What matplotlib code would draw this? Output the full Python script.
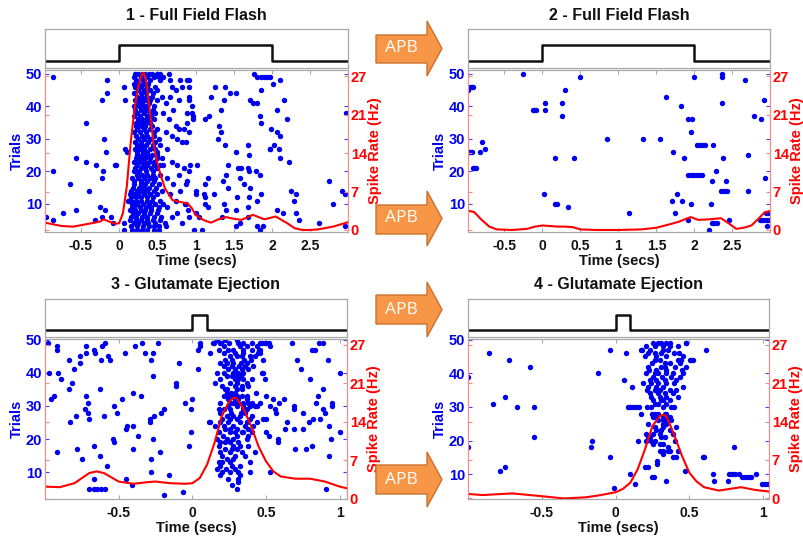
import numpy as np
import matplotlib.pyplot as plt
from matplotlib.patches import Polygon

plt.rcParams['font.family'] = ['Liberation Sans', 'DejaVu Sans']
plt.rcParams['font.weight'] = 'bold'

W, H = 804, 536

# ---------------- data ----------------
titles = ["1 - Full Field Flash", "2 - Full Field Flash",
          "3 - Glutamate Ejection", "4 - Glutamate Ejection"]

# stimulus traces (time, level)
stim_flash_t = [-1.0, 0.0, 0.0, 2.0, 2.0, 3.0]
stim_flash_v = [0, 0, 1, 1, 0, 0]
stim_glu_t = [-1.0, 0.0, 0.0, 0.1, 0.1, 1.1]
stim_glu_v = [0, 0, 1, 1, 0, 0]

# spike rate curves (Hz)
rate1_t = [-0.97, -0.75, -0.6, -0.4, -0.25, -0.2, -0.15, -0.05, 0.0, 0.05, 0.1, 0.15,
           0.2, 0.25, 0.3, 0.32, 0.35, 0.4, 0.45, 0.5, 0.55, 0.6, 0.7, 0.8, 0.9, 0.95,
           1.0, 1.1, 1.2, 1.3, 1.4, 1.5, 1.6, 1.75, 1.9, 2.05, 2.2, 2.3, 2.4, 2.5,
           2.6, 2.8, 2.95, 3.0]
rate1_v = [1.3, 0.7, 0.6, 1.1, 1.5, 1.9, 1.6, 1.1, 1.2, 3.0, 7.7, 15.4,
           21.4, 25.5, 27.8, 28.0, 27.0, 21.4, 15.4, 11.9, 9.5, 7.4, 5.3, 5.0, 4.7, 3.9,
           2.7, 1.8, 1.3, 1.9, 2.3, 2.0, 1.8, 2.7, 1.9, 2.4, 1.2, 0.3, 0.0, 0.0,
           0.1, 0.6, 1.2, 1.4]

rate2_t = [-0.97, -0.9, -0.8, -0.7, -0.6, -0.4, -0.2, -0.1, 0.0, 0.2, 0.3, 0.4, 0.5,
           0.7, 1.0, 1.3, 1.5, 1.7, 1.8, 1.95, 2.05, 2.2, 2.35, 2.45, 2.55, 2.65,
           2.75, 2.85, 2.92, 3.0]
rate2_v = [3.4, 3.2, 1.8, 0.6, 0.1, 0.0, 0.2, 0.6, 0.8, 0.6, 0.6, 0.5, 0.1,
           0.0, 0.0, 0.1, 0.4, 1.1, 1.5, 2.3, 1.8, 1.9, 2.1, 1.2, 0.2, 0.4,
           0.8, 2.1, 3.1, 3.4]

rate3_t = [-1.0, -0.9, -0.8, -0.7, -0.65, -0.6, -0.5, -0.4, -0.3, -0.25, -0.15, -0.05,
           0.0, 0.05, 0.1, 0.15, 0.2, 0.25, 0.28, 0.3, 0.35, 0.4, 0.45, 0.5, 0.55,
           0.6, 0.7, 0.8, 0.9, 1.0, 1.05]
rate3_v = [2.2, 2.1, 2.8, 4.6, 4.9, 4.6, 3.1, 2.7, 3.0, 3.1, 2.8, 2.7,
           2.8, 3.7, 6.1, 9.9, 14.7, 17.3, 18.0, 17.9, 15.9, 12.9, 9.3, 6.7, 4.9,
           4.0, 3.6, 3.6, 3.1, 2.2, 1.9]

rate4_t = [-1.0, -0.9, -0.7, -0.5, -0.35, -0.2, -0.1, 0.0, 0.05, 0.1, 0.15, 0.2,
           0.25, 0.3, 0.33, 0.35, 0.4, 0.45, 0.5, 0.55, 0.6, 0.7, 0.8, 0.85, 0.95, 1.05]
rate4_v = [0.8, 0.6, 0.9, 0.4, 0.0, 0.2, 0.6, 1.1, 1.7, 2.8, 5.2, 8.8,
           12.9, 14.7, 14.9, 14.4, 11.1, 7.6, 4.6, 3.0, 2.0, 1.4, 1.8, 2.0, 1.5, 1.2]

# raster spikes: (time, trial)
p1_spikes = [
    (-0.86, 49), (-0.16, 48), (-0.16, 44), (-0.23, 42), (-0.43, 35), (-0.20, 30),
    (-0.17, 26), (-0.56, 24), (-0.43, 23), (-0.30, 22), (-0.04, 22), (-0.86, 20),
    (-0.21, 20), (-0.22, 18), (-0.64, 16), (-0.40, 14), (-0.25, 9), (-0.19, 8),
    (-0.57, 8), (-0.74, 7), (-0.96, 6), (-0.87, 5), (-0.32, 5), (-0.22, 6),
    (-0.10, 6), (-0.08, 4), (-0.05, 22),
    (0.07, 46), (0.08, 42), (0.08, 27), (0.10, 26), (0.14, 13), (0.12, 11),
    (0.17, 9), (0.07, 4),
    (0.58, 49), (0.65, 50), (0.66, 48), (0.69, 46), (0.74, 45), (0.80, 48),
    (0.82, 46), (0.89, 48), (0.56, 43), (0.61, 41), (0.66, 43), (0.71, 39),
    (0.78, 42), (0.91, 42), (0.58, 38), (0.65, 36), (0.74, 34), (0.78, 33),
    (0.85, 33), (0.61, 32), (0.69, 31), (0.76, 30), (0.82, 29), (0.63, 27),
    (0.69, 23), (0.76, 22), (0.85, 21), (0.58, 22), (0.78, 19), (0.87, 16),
    (0.62, 18), (0.71, 16), (0.80, 14), (0.67, 13), (0.74, 11), (0.86, 10),
    (0.63, 9), (0.76, 7), (0.69, 6), (0.82, 4), (0.61, 3), (0.91, 6),
    (1.77, 50), (1.81, 49), (1.85, 49), (1.89, 49), (1.93, 49), (0.91, 48),
    (0.92, 46), (1.26, 46), (1.38, 46), (1.45, 44), (1.53, 44), (1.85, 45),
    (1.20, 43), (0.92, 43), (1.37, 42), (1.71, 42), (1.75, 41), (1.80, 41),
    (1.33, 39), (0.95, 40), (0.96, 38), (0.89, 38), (0.97, 37), (0.97, 36),
    (1.18, 37), (1.13, 36), (1.84, 37), (0.89, 35), (1.31, 34), (1.85, 35),
    (1.33, 32), (0.91, 32), (1.29, 30), (0.88, 29), (1.38, 28), (1.69, 28),
    (1.97, 27), (1.53, 26), (1.70, 25), (0.93, 22), (1.02, 22), (1.43, 22),
    (1.56, 21), (1.59, 21), (1.68, 21), (0.91, 20), (1.40, 19), (1.70, 20),
    (1.79, 20), (1.84, 19), (1.16, 18), (1.58, 18), (0.89, 17), (1.36, 17),
    (1.63, 16), (1.13, 16), (1.71, 15), (1.00, 14), (1.43, 15), (1.24, 13),
    (1.85, 13), (1.01, 13), (1.11, 13), (1.13, 12), (1.54, 12), (1.70, 12),
    (1.37, 10), (1.81, 11), (0.87, 10), (1.13, 10), (1.16, 9), (1.68, 9),
    (1.00, 7), (1.40, 8), (1.53, 8), (0.90, 8), (1.05, 6), (1.34, 6),
    (1.68, 6), (1.53, 3), (0.98, 2), (1.09, 2), (1.58, 4), (1.81, 3),
    (1.84, 2), (1.88, 3),
    (1.97, 49), (2.02, 47), (2.10, 48), (2.16, 42), (2.06, 39), (2.20, 36),
    (1.99, 33), (2.06, 32), (2.11, 31), (1.97, 27), (2.03, 28), (2.09, 27),
    (2.10, 24), (2.22, 23), (2.25, 14), (2.31, 13), (2.29, 11), (2.06, 8),
    (2.14, 7), (2.31, 7), (2.36, 5), (2.62, 4), (2.75, 17), (2.80, 10),
    (2.91, 14), (2.95, 13), (2.97, 38), (2.95, 3),
]
# dense burst after flash onset: trial -> spike times
p1_burst = {
    50: [0.21, 0.25, 0.30, 0.34, 0.39, 0.43, 0.50, 0.53],
    49: [0.20, 0.28, 0.36, 0.45, 0.52], 48: [0.22, 0.31, 0.41, 0.54],
    47: [0.19, 0.26, 0.33, 0.38], 46: [0.21, 0.28, 0.37, 0.47],
    45: [0.25, 0.32, 0.40, 0.49], 44: [0.20, 0.29, 0.35, 0.44],
    43: [0.23, 0.30, 0.36, 0.43], 42: [0.21, 0.27, 0.34, 0.41, 0.50],
    41: [0.24, 0.30, 0.39], 40: [0.19, 0.26, 0.33, 0.37, 0.45],
    39: [0.21, 0.28, 0.35, 0.44], 38: [0.23, 0.32, 0.41, 0.47],
    37: [0.20, 0.27, 0.36, 0.42], 36: [0.25, 0.30, 0.37, 0.45],
    35: [0.22, 0.29, 0.34, 0.40], 34: [0.22, 0.28, 0.34, 0.43],
    33: [0.24, 0.32, 0.40, 0.50], 32: [0.20, 0.27, 0.35, 0.46],
    31: [0.22, 0.30, 0.36, 0.45], 30: [0.25, 0.32, 0.41, 0.52],
    29: [0.21, 0.29, 0.38, 0.47], 28: [0.23, 0.28, 0.35, 0.44, 0.54],
    27: [0.21, 0.27, 0.33, 0.40, 0.47], 26: [0.24, 0.31, 0.37, 0.49],
    25: [0.23, 0.30, 0.36, 0.43, 0.50], 24: [0.22, 0.28, 0.34, 0.41, 0.49, 0.56],
    23: [0.20, 0.26, 0.33, 0.39, 0.46], 22: [0.24, 0.31, 0.37, 0.45, 0.53],
    21: [0.21, 0.28, 0.34, 0.42, 0.50], 20: [0.19, 0.26, 0.35, 0.44],
    19: [0.23, 0.30, 0.36, 0.44, 0.54], 18: [0.17, 0.25, 0.32, 0.40, 0.47],
    17: [0.20, 0.29, 0.37, 0.46], 16: [0.20, 0.28, 0.34, 0.43, 0.52],
    15: [0.18, 0.26, 0.33, 0.39, 0.48], 14: [0.15, 0.23, 0.30, 0.37, 0.45, 0.56],
    13: [0.19, 0.25, 0.32, 0.40, 0.50], 12: [0.16, 0.22, 0.29, 0.36, 0.44],
    11: [0.15, 0.22, 0.29, 0.36, 0.43, 0.54], 10: [0.17, 0.24, 0.31, 0.39, 0.47, 0.58],
    9: [0.20, 0.27, 0.35, 0.42, 0.52], 8: [0.14, 0.21, 0.28, 0.34, 0.42, 0.51],
    7: [0.18, 0.25, 0.32, 0.40, 0.49], 6: [0.15, 0.22, 0.30, 0.37, 0.45, 0.55],
    5: [0.14, 0.22, 0.29, 0.36, 0.44, 0.54], 4: [0.19, 0.25, 0.32, 0.38, 0.47, 0.60],
    3: [0.16, 0.23, 0.31, 0.39, 0.45, 0.52], 2: [0.07, 0.17, 0.24, 0.30, 0.36, 0.45, 0.52],
}

p2_spikes = [
    (-0.98, 45), (-0.95, 46), (-0.93, 46), (-0.91, 46), (-0.97, 26), (-0.95, 26),
    (-0.93, 26), (-0.92, 21), (-0.90, 21), (-0.88, 21), (-0.82, 26), (-0.79, 29),
    (-0.75, 27), (-0.26, 50), (-0.13, 39), (-0.11, 39), (-0.08, 39), (0.03, 41),
    (0.03, 39), (0.02, 13), (0.17, 24), (0.17, 10), (0.19, 10), (0.26, 41),
    (0.26, 37), (0.30, 45), (0.33, 9), (0.42, 24), (0.49, 49), (0.85, 30),
    (1.14, 7), (1.32, 30), (1.55, 30), (1.62, 43), (1.72, 26), (1.71, 11),
    (1.74, 7), (1.77, 13), (1.83, 40), (1.84, 11), (1.86, 24), (1.91, 5),
    (1.91, 36), (1.97, 36), (1.96, 32), (1.95, 10), (1.92, 19), (1.95, 19),
    (1.98, 19), (2.02, 19), (2.06, 19), (2.10, 19), (2.00, 49), (2.04, 28),
    (2.07, 28), (2.10, 28), (2.14, 28), (2.22, 10), (2.19, 2), (2.23, 17),
    (2.24, 28), (2.23, 4), (2.26, 4), (2.30, 4), (2.28, 20), (2.36, 50),
    (2.36, 49), (2.36, 41), (2.37, 24), (2.35, 14), (2.39, 14), (2.43, 14),
    (2.41, 17), (2.45, 5), (2.66, 48), (2.71, 25), (2.70, 14), (2.79, 37),
    (2.87, 36), (2.91, 42), (2.93, 18), (2.86, 5), (2.89, 5), (2.92, 5),
    (2.95, 5), (2.98, 5), (2.94, 7), (2.97, 7), (3.00, 7), (2.96, 3),
]

p3_spikes = [
    (-0.98, 49), (-0.975, 40), (-0.96, 32), (-0.94, 33), (-0.92, 47), (-0.92, 48),
    (-0.92, 16), (-0.91, 40), (-0.89, 38), (-0.84, 44), (-0.84, 35), (-0.83, 25),
    (-0.82, 37), (-0.80, 41), (-0.79, 27), (-0.78, 17), (-0.76, 43), (-0.76, 45),
    (-0.75, 14), (-0.73, 29), (-0.72, 33), (-0.72, 48), (-0.72, 46), (-0.71, 31),
    (-0.71, 28), (-0.70, 26), (-0.70, 5), (-0.67, 5), (-0.65, 5), (-0.62, 5),
    (-0.59, 5), (-0.67, 18), (-0.67, 47), (-0.66, 46), (-0.67, 8), (-0.63, 35),
    (-0.63, 15), (-0.62, 44), (-0.61, 48), (-0.60, 27), (-0.59, 49), (-0.58, 12),
    (-0.57, 45), (-0.56, 44), (-0.54, 20), (-0.53, 19), (-0.53, 30), (-0.51, 28),
    (-0.48, 32), (-0.46, 46), (-0.45, 23), (-0.44, 24), (-0.45, 8), (-0.41, 6),
    (-0.40, 34), (-0.40, 17), (-0.40, 24), (-0.39, 48), (-0.35, 33), (-0.37, 21),
    (-0.34, 49), (-0.32, 46), (-0.29, 25), (-0.29, 26), (-0.28, 44), (-0.28, 14),
    (-0.28, 10), (-0.27, 46), (-0.27, 39), (-0.27, 20), (-0.26, 27), (-0.23, 49),
    (-0.22, 16), (-0.21, 28), (-0.19, 29), (-0.19, 3), (-0.16, 9), (-0.11, 36),
    (-0.11, 37), (-0.09, 43), (-0.06, 4), (-0.05, 31), (-0.02, 18), (-0.01, 29),
    (0.0, 32), (-0.01, 22), (0.04, 47), (0.05, 48), (0.04, 41), (0.05, 49),
    (0.12, 25), (0.12, 46), (0.14, 49), (0.19, 49), (0.25, 49),
    (0.45, 47), (0.46, 46), (0.47, 49), (0.48, 44), (0.49, 49), (0.50, 49),
    (0.52, 49), (0.53, 48), (0.48, 40), (0.49, 38), (0.50, 33), (0.53, 30),
    (0.50, 26), (0.50, 22), (0.48, 26), (0.52, 21), (0.53, 10), (0.55, 32),
    (0.56, 29), (0.57, 28), (0.58, 19), (0.58, 20), (0.59, 31), (0.62, 32),
    (0.63, 23), (0.64, 25), (0.68, 49), (0.69, 30), (0.69, 29), (0.69, 23),
    (0.70, 17), (0.71, 44), (0.74, 41), (0.75, 28), (0.75, 23), (0.77, 17),
    (0.79, 25), (0.80, 38), (0.81, 47), (0.81, 18), (0.82, 26), (0.83, 47),
    (0.84, 31), (0.85, 33), (0.86, 49), (0.87, 26), (0.89, 49), (0.89, 35),
    (0.89, 29), (0.90, 28), (0.91, 5), (0.92, 44), (0.93, 24), (0.93, 15),
    (0.94, 20), (0.95, 31), (0.95, 30), (1.0, 22), (1.0, 40),
]
p3_burst = {
    50: [0.17, 0.22, 0.30], 49: [0.144, 0.194, 0.313, 0.347, 0.403, 0.459],
    48: [0.212, 0.324, 0.369, 0.437], 47: [0.182, 0.245, 0.279, 0.342, 0.403, 0.459],
    46: [0.212, 0.291, 0.347, 0.448], 45: [0.257, 0.306, 0.336, 0.392, 0.426],
    44: [0.22, 0.27, 0.35, 0.40], 43: [0.189, 0.234, 0.279, 0.329, 0.369],
    42: [0.218, 0.268, 0.320, 0.358, 0.410], 41: [0.245, 0.291, 0.336, 0.381],
    40: [0.167, 0.212, 0.279, 0.313, 0.347, 0.471], 39: [0.234, 0.268, 0.302, 0.329],
    38: [0.189, 0.291, 0.313, 0.347, 0.403], 37: [0.155, 0.257, 0.302, 0.369],
    36: [0.20, 0.29, 0.34, 0.38], 35: [0.223, 0.234, 0.302, 0.336],
    34: [0.234, 0.261, 0.291, 0.432], 33: [0.212, 0.245, 0.268, 0.279, 0.302, 0.336, 0.369],
    32: [0.245, 0.291, 0.313, 0.369],
    31: [0.189, 0.257, 0.279, 0.313, 0.347, 0.381, 0.403, 0.459],
    30: [0.245, 0.302, 0.347, 0.392, 0.426, 0.441], 29: [0.178, 0.212, 0.257, 0.347, 0.369],
    28: [0.19, 0.26, 0.33, 0.36], 27: [0.234, 0.279, 0.324, 0.403],
    26: [0.200, 0.257, 0.302, 0.392], 25: [0.110, 0.189, 0.245, 0.324, 0.369, 0.437],
    24: [0.155, 0.212, 0.279, 0.358, 0.414], 23: [0.223, 0.257, 0.302, 0.381],
    22: [0.178, 0.257, 0.291, 0.336, 0.347, 0.403], 21: [0.21, 0.30, 0.38],
    20: [0.167, 0.234, 0.279, 0.369], 19: [0.189, 0.223, 0.257, 0.313],
    18: [0.178, 0.279, 0.324, 0.381], 17: [0.223, 0.268, 0.302],
    16: [0.189, 0.257, 0.336, 0.426], 15: [0.200, 0.291, 0.358], 14: [0.234, 0.279],
    13: [0.178, 0.200, 0.257, 0.392], 12: [0.189, 0.268, 0.324], 11: [0.17, 0.23, 0.29],
    10: [0.200, 0.257, 0.313, 0.392], 9: [0.189, 0.324], 8: [0.245, 0.313],
    7: [0.313], 6: [0.27], 5: [0.302],
}

p4_spikes = [
    (-1.0, 39), (-1.0, 18), (-0.86, 46), (-0.83, 31), (-0.78, 11), (-0.75, 12),
    (-0.75, 33), (-0.72, 44), (-0.67, 30), (-0.58, 42), (-0.55, 30), (-0.55, 21),
    (-0.165, 18), (-0.16, 20), (-0.12, 40), (-0.04, 15), (-0.04, 47), (-0.01, 6),
    (0.07, 46), (0.06, 38), (0.095, 10), (0.11, 36), (0.085, 30), (0.10, 30),
    (0.12, 30), (0.14, 30), (0.16, 30), (0.13, 7), (0.17, 28), (0.15, 20),
    (0.18, 47), (0.20, 12), (0.22, 12), (0.245, 9), (0.26, 9), (0.28, 13), (0.34, 8),
    (0.47, 11), (0.48, 49), (0.51, 44), (0.59, 15), (0.60, 15), (0.61, 47),
    (0.66, 10), (0.67, 8), (0.76, 8), (0.77, 10), (0.79, 10), (0.81, 10),
    (0.80, 18), (0.84, 10), (0.86, 9), (0.88, 9), (0.90, 9), (0.92, 9),
    (0.95, 10), (0.99, 7), (1.01, 7), (1.03, 7),
]
p4_burst = {
    49: [0.253, 0.287, 0.310, 0.344, 0.367, 0.480], 48: [0.208, 0.265, 0.321, 0.371, 0.423],
    47: [0.174, 0.235, 0.321, 0.355], 46: [0.219, 0.265, 0.310, 0.394, 0.430],
    45: [0.197, 0.276, 0.344, 0.457], 44: [0.265, 0.299, 0.423, 0.446, 0.502, 0.525],
    43: [0.247, 0.333, 0.367, 0.434], 42: [0.219, 0.310, 0.333, 0.400, 0.480],
    41: [0.226, 0.276, 0.344, 0.452], 40: [0.208, 0.265, 0.287, 0.344, 0.389, 0.457],
    39: [0.253, 0.317, 0.378, 0.434], 38: [0.231, 0.276, 0.333, 0.412],
    37: [0.186, 0.242, 0.287, 0.344, 0.394], 36: [0.219, 0.271, 0.321, 0.457],
    35: [0.213, 0.265, 0.299, 0.367, 0.412], 34: [0.231, 0.287, 0.333, 0.389],
    33: [0.242, 0.299, 0.344, 0.423], 32: [0.253, 0.310, 0.321, 0.371],
    31: [0.265, 0.287, 0.344], 30: [0.213, 0.242, 0.321, 0.378, 0.394],
    28: [0.247, 0.265, 0.287, 0.333, 0.344], 27: [0.253, 0.276, 0.321, 0.367],
    26: [0.287, 0.321, 0.333, 0.344, 0.378], 25: [0.219, 0.321, 0.344],
    24: [0.265, 0.321, 0.412], 23: [0.276, 0.310, 0.367],
    22: [0.204, 0.253, 0.299, 0.389], 21: [0.219, 0.235, 0.310, 0.333],
    20: [0.208, 0.242, 0.265, 0.400], 19: [0.253, 0.299, 0.321], 18: [0.355],
    17: [0.299, 0.321, 0.355, 0.367, 0.423], 16: [0.321], 15: [0.389, 0.412], 14: [0.283],
}

flash_ticks = [-0.5, 0, 0.5, 1, 1.5, 2, 2.5]
flash_ticklabels = ['-0.5', '0', '0.5', '1', '1.5', '2', '2.5']
glu_ticks = [-0.5, 0, 0.5, 1]
glu_ticklabels = ['-0.5', '0', '0.5', '1']
trial_ticks = [10, 20, 30, 40, 50]
rate_ticks = np.linspace(0, 27.4, 5)
rate_ticklabels = ['0', '7', '14', '21', '27']


def merge(spikes, burst):
    t = [s[0] for s in spikes]
    tr = [s[1] for s in spikes]
    for trial, times in burst.items():
        t += times
        tr += [trial] * len(times)
    return np.array(t), np.array(tr)


def rect(x0, y0, x1, y1):
    # pixel box (top-left origin) -> figure fraction
    return [x0 / W, 1 - y1 / H, (x1 - x0) / W, (y1 - y0) / H]


RED_SPINE = '#f08c8c'
GRAY = '#a8a8a8'


def panel(fig, box, stim_box, title, stim_t, stim_v, spikes, rate_t, rate_v,
          xlim, ylim, ylim2, xticks, xticklabels):
    # stimulus trace
    ax_s = fig.add_axes(rect(*stim_box))
    ax_s.plot(stim_t, stim_v, color='#111111', lw=1.8)
    ax_s.set_xlim(*xlim)
    ax_s.set_ylim(-0.42, 2.0)
    ax_s.set_xticks([])
    ax_s.set_yticks([])
    for sp in ax_s.spines.values():
        sp.set_color(GRAY)
        sp.set_linewidth(0.9)
    cx = (stim_box[0] + stim_box[2]) / 2
    fig.text(cx / W, 1 - (stim_box[1] - 14) / H, title, ha='center', va='center',
             fontsize=11.5, fontweight='bold', color='#111111')

    # raster + rate (plotyy style)
    ax = fig.add_axes(rect(*box))
    ax2 = ax.twinx()
    t, tr = spikes
    ax.plot(t, tr, 'o', color='#0000f0', ms=3.9, mew=0, clip_on=True)
    ax2.plot(rate_t, rate_v, color='#ff0000', lw=1.5)

    ax.set_xlim(*xlim)
    ax.set_ylim(*ylim)
    ax2.set_ylim(*ylim2)

    ax.set_xticks(xticks)
    ax.set_xticklabels(xticklabels)
    ax.set_yticks(trial_ticks)
    ax2.set_yticks(rate_ticks)
    ax2.set_yticklabels(rate_ticklabels)

    ax.tick_params(axis='x', direction='in', length=3, top=True, color=GRAY,
                   labelsize=10, labelcolor='#111111', pad=5)
    ax.tick_params(axis='y', direction='in', length=3, left=True, right=True,
                   color='#4040ff', labelcolor='#0000f0', labelsize=10.5, pad=2)
    ax2.tick_params(axis='y', direction='in', length=3, left=True, right=True,
                    color=RED_SPINE, labelcolor='#ff0000', labelsize=10.5, pad=2)
    for a in (ax, ax2):
        a.spines['left'].set_color(RED_SPINE)
        a.spines['right'].set_color(RED_SPINE)
        a.spines['top'].set_color(GRAY)
        a.spines['bottom'].set_color(GRAY)

    ax.set_ylabel('Trials', color='#0000f0', fontsize=10.5, fontweight='bold', labelpad=1)
    ax2.set_ylabel('Spike Rate (Hz)', color='#ff0000', fontsize=10.5, fontweight='bold',
                   labelpad=1)
    ax.set_xlabel('Time (secs)', color='#111111', fontsize=10.5, fontweight='bold',
                  labelpad=1)
    return ax, ax2


def apb_arrow(fig, x0, xb, xt, yh0, yb0, yb1, yh1):
    ym = (yh0 + yh1) / 2
    pts = [(x0, yb0), (xb, yb0), (xb, yh0), (xt, ym), (xb, yh1), (xb, yb1), (x0, yb1)]
    pts = [(x / W, 1 - y / H) for x, y in pts]
    fig.patches.append(Polygon(pts, closed=True, transform=fig.transFigure,
                               facecolor='#f79646', edgecolor='#c8722e', lw=1.0))
    fig.text((x0 + xb) / 2 / W, 1 - ym / H, 'APB', ha='center', va='center',
             color='white', fontsize=12.5, fontweight='normal',
             family=['Open Sans', 'DejaVu Sans'])


fig = plt.figure(figsize=(W / 100, H / 100), dpi=100)

panel(fig, (45, 70, 348, 232), (45, 29, 348, 68), titles[0], stim_flash_t, stim_flash_v,
      merge(p1_spikes, p1_burst), rate1_t, rate1_v, (-0.97, 2.995), (1.3, 51.2),
      (-0.36, 28.5), flash_ticks, flash_ticklabels)
panel(fig, (468, 70, 770, 232), (468, 29, 770, 68), titles[1], stim_flash_t, stim_flash_v,
      merge(p2_spikes, {}), rate2_t, rate2_v, (-0.98, 2.995), (1.3, 51.2),
      (-0.36, 28.5), flash_ticks, flash_ticklabels)
panel(fig, (45, 339, 347, 499), (45, 299, 347, 337), titles[2], stim_glu_t, stim_glu_v,
      merge(p3_spikes, p3_burst), rate3_t, rate3_v, (-1.0, 1.05), (1.9, 50.2),
      (0.0, 28.4), glu_ticks, glu_ticklabels)
panel(fig, (468, 339, 769, 499), (468, 299, 769, 337), titles[3], stim_glu_t, stim_glu_v,
      merge(p4_spikes, p4_burst), rate4_t, rate4_v, (-1.0, 1.04), (2.6, 50.2),
      (-0.1, 28.4), glu_ticks, glu_ticklabels)

apb_arrow(fig, 376, 427, 442, 21, 35, 63, 76)
apb_arrow(fig, 376, 427, 442, 191, 205, 234, 246)
apb_arrow(fig, 376, 427, 442, 282, 295, 324, 337)
apb_arrow(fig, 376, 427, 442, 452, 465, 494, 507)

fig.savefig('out.png', dpi=100)
